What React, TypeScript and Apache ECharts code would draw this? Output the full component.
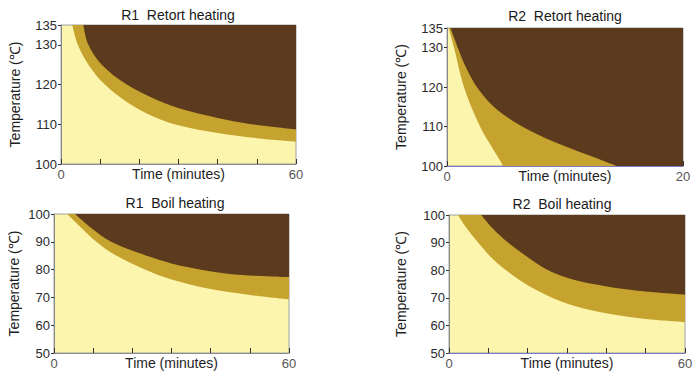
import React, { useEffect, useRef } from "react";
import * as echarts from "echarts";

const TITLES = ["R1  Retort heating", "R2  Retort heating", "R1  Boil heating", "R2  Boil heating"];
const X_NAME = "Time (minutes)";
const Y_NAME = "Temperature (℃)";

const X_MAX = [60, 20, 60, 60];
const X_INTERVAL = [10, 5, 10, 10];
const Y_MIN = [100, 100, 50, 50];
const Y_MAX = [135, 135, 100, 100];

// boundary between light and gold zone
const R1R_LOWER = [[2.9, 135], [4.3, 130], [7, 125], [11.2, 120], [17, 115.5], [24, 111.8], [31, 109.5], [40, 107.8], [50, 106.5], [60, 105.6]];
// boundary between gold and dark zone
const R1R_UPPER = [[5.7, 135], [7, 130], [10.4, 125], [16.8, 120], [24.8, 116], [31.7, 113.6], [40, 111.6], [47.4, 110.2], [60, 108.7]];

const R2R_LOWER = [[0.15, 135], [0.6, 130], [1.44, 120], [2.8, 110], [3.9, 104.3], [4.8, 100]];
const R2R_LOWER_FLOOR = [[4.7, 100], [20, 100]];
const R2R_UPPER = [[0.3, 135], [0.96, 129.7], [1.67, 124.6], [2.65, 119.5], [4.2, 114.4], [6.75, 109.4], [10, 105], [12.4, 102.3], [14.4, 100]];
const R2R_UPPER_FLOOR = [[14.3, 100], [20, 100]];

const R1B_LOWER = [[3.4, 100], [7, 95], [10.8, 90], [15.5, 85.3], [23.2, 80], [30, 76.4], [40, 73], [50, 70.9], [60, 69.3]];
const R1B_UPPER = [[5.4, 100], [9.5, 95], [14.6, 90], [20.6, 86.5], [28.3, 82.9], [32, 81.5], [42.4, 78.9], [50, 77.9], [60, 77.3]];

const R2B_LOWER = [[2.3, 100], [4.6, 95], [7.4, 90], [10.5, 85], [14.5, 80], [19.5, 75], [25.5, 70.5], [32, 67], [40, 64.4], [50, 62.3], [60, 61.2]];
const R2B_UPPER = [[8.2, 100], [11.2, 95], [15, 90], [19.5, 85.2], [24.5, 80.5], [30, 77.3], [37, 74.9], [47, 72.7], [60, 71.1]];

const GOLD_DATA = [[R1R_LOWER], [R2R_LOWER, R2R_LOWER_FLOOR], [R1B_LOWER], [R2B_LOWER]];
const DARK_DATA = [[R1R_UPPER], [R2R_UPPER, R2R_UPPER_FLOOR], [R1B_UPPER], [R2B_UPPER]];

const LIGHT = "#fcf5ad";
const GOLD = "#c6a32e";
const DARK = "#5b3a1d";
const FONT = "'Liberation Sans', Arial, sans-serif";

const GRIDS = [
  { left: 61, top: 25, width: 235, height: 139 },
  { left: 447, top: 28, width: 236, height: 138 },
  { left: 54, top: 214, width: 235, height: 139 },
  { left: 449, top: 215, width: 236, height: 138 },
];
const TITLE_POS = [[178, 15], [565, 16], [175, 203], [562, 204]];
const X_NAME_Y = [174, 176, 363, 363];
const Y_NAME_GAP = [39, 39, 33, 41];
const X_LINE = ["#8a8a8a", "#7a78c8", "#8a8a8a", "#7a78c8"];

export default function App() {
  const ref = useRef<HTMLDivElement>(null);
  useEffect(() => {
    if (!ref.current) return;
    const chart = echarts.init(ref.current, null, { renderer: "svg" });
    const grid = GRIDS.map((g) => ({
      ...g,
      show: true,
      backgroundColor: LIGHT,
      borderColor: "#a0a0a0",
      borderWidth: 1,
    }));
    const xAxis = GRIDS.map((_, i) => ({
      type: "value",
      gridIndex: i,
      min: 0,
      max: X_MAX[i],
      interval: X_INTERVAL[i],
      axisLine: { show: true, lineStyle: { color: X_LINE[i], width: 1 } },
      axisTick: { show: true, inside: true, length: 5, lineStyle: { color: "#333", width: 1 } },
      splitLine: { show: false },
      axisLabel: {
        margin: 4,
        fontFamily: FONT,
        fontSize: 13,
        color: "#555",
        showMaxLabel: true,
        showMinLabel: true,
        formatter: (v: number) => (v === 0 || v === X_MAX[i] ? String(v) : ""),
      },
    }));
    const yAxis = GRIDS.map((_, i) => ({
      type: "value",
      gridIndex: i,
      min: Y_MIN[i],
      max: Y_MAX[i],
      interval: 10,
      name: Y_NAME,
      nameLocation: "middle",
      nameGap: Y_NAME_GAP[i],
      nameTextStyle: { fontFamily: FONT, fontSize: 14, color: "#1e1e1e" },
      axisLine: { show: true, lineStyle: { color: "#8a8a8a", width: 1 } },
      axisTick: { show: true, inside: false, length: 3, lineStyle: { color: "#333", width: 1 } },
      splitLine: { show: false },
      axisLabel: {
        margin: 4,
        fontFamily: FONT,
        fontSize: 13,
        color: "#2a2a2a",
        showMaxLabel: true,
        showMinLabel: true,
      },
    }));
    const series: any[] = [];
    GRIDS.forEach((_, i) => {
      const parts = [
        ...GOLD_DATA[i].map((d) => ({ data: d, color: GOLD, z: 2 })),
        ...DARK_DATA[i].map((d) => ({ data: d, color: DARK, z: 3 })),
      ];
      parts.forEach((s) => {
        series.push({
          type: "line",
          xAxisIndex: i,
          yAxisIndex: i,
          data: s.data,
          smooth: s.data.length > 2 ? 0.35 : false,
          symbol: "none",
          clip: true,
          z: s.z,
          lineStyle: { width: 0, color: s.color },
          itemStyle: { color: s.color },
          areaStyle: { origin: "end", color: s.color, opacity: 1 },
          silent: true,
        });
      });
    });
    const titles = TITLE_POS.map((p, i) => ({
      type: "text",
      x: p[0],
      y: p[1],
      style: {
        text: TITLES[i],
        fill: "#1a1a1a",
        font: `14px ${FONT}`,
        textAlign: "center",
        textVerticalAlign: "middle",
      },
    }));
    const xNames = GRIDS.map((g, i) => ({
      type: "text",
      x: g.left + g.width / 2,
      y: X_NAME_Y[i],
      style: {
        text: X_NAME,
        fill: "#1e1e1e",
        font: `14px ${FONT}`,
        textAlign: "center",
        textVerticalAlign: "middle",
      },
    }));
    chart.setOption({
      animation: false,
      backgroundColor: "#ffffff",
      grid,
      xAxis,
      yAxis,
      series,
      graphic: [...titles, ...xNames],
    });
    return () => chart.dispose();
  }, []);
  return (
    <div
      ref={ref}
      style={{ position: "fixed", left: 0, top: 0, width: 700, height: 382 }}
    />
  );
}
